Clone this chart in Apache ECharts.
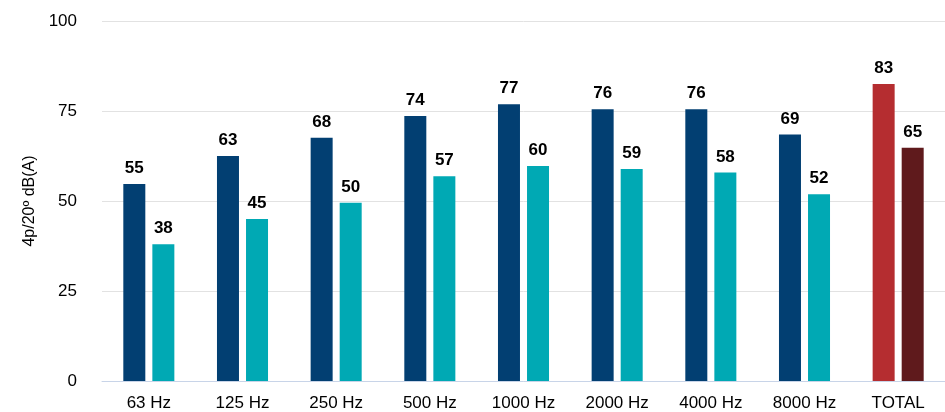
<!DOCTYPE html>
<html>
<head>
<meta charset="utf-8">
<script src="https://cdn.jsdelivr.net/npm/echarts@6/dist/echarts.min.js"></script>
<style>
html,body{margin:0;padding:0;background:#fff;}
#chart{width:945px;height:412px;}
</style>
</head>
<body>
<div id="chart"></div>
<script>
const categories = ['63 Hz','125 Hz','250 Hz','500 Hz','1000 Hz','2000 Hz','4000 Hz','8000 Hz','TOTAL'];
const seriesA = [54.7, 62.5, 67.6, 73.6, 76.9, 75.5, 75.5, 68.5, 82.5];
const seriesB = [38.0, 45.0, 49.5, 56.9, 59.7, 58.9, 57.9, 51.9, 64.8];
const yTicks = [0, 25, 50, 75, 100];
const yAxisName = '4p/20º dB(A)';

const colA = '#023f72', colB = '#00a9b4';
const totA = '#b52d30', totB = '#5f1a1c';

function build(vals, col, tot) {
  return vals.map((v, i) => i === categories.length - 1
    ? { value: v, itemStyle: { color: tot } }
    : { value: v, itemStyle: { color: col } });
}

const FONT = 'Liberation Sans, Arial, sans-serif';
const chart = echarts.init(document.getElementById('chart'));
const labelCfg = {
  show: true, position: 'top', distance: 7,
  color: '#000', fontFamily: FONT,
  fontWeight: 'bold', fontSize: 17,
  formatter: p => Math.round(p.value)
};
chart.setOption({
  animation: false,
  grid: { left: 102, right: 0, top: 21, bottom: 31, outerBoundsMode: 'none', containLabel: false },
  xAxis: {
    type: 'category', data: categories,
    axisLine: { lineStyle: { color: '#c8d4e8', width: 1 } },
    axisTick: { show: false },
    axisLabel: { color: '#000', fontSize: 17, fontFamily: FONT, margin: 14 }
  },
  yAxis: {
    type: 'value', min: yTicks[0], max: yTicks[yTicks.length - 1], interval: 25,
    name: yAxisName, nameLocation: 'middle', nameGap: 63, nameRotate: 90,
    nameTextStyle: { color: '#000', fontSize: 16, fontFamily: FONT },
    axisLine: { show: false }, axisTick: { show: false },
    axisLabel: { color: '#000', fontSize: 17, fontFamily: FONT, margin: 25 },
    splitLine: { lineStyle: { color: '#e2e2e2', width: 1 } }
  },
  series: [
    { type: 'bar', data: build(seriesA, colA, totA), barWidth: 22, barGap: '32%', label: labelCfg },
    { type: 'bar', data: build(seriesB, colB, totB), barWidth: 22, barGap: '32%', label: labelCfg }
  ]
});
</script>
</body>
</html>
